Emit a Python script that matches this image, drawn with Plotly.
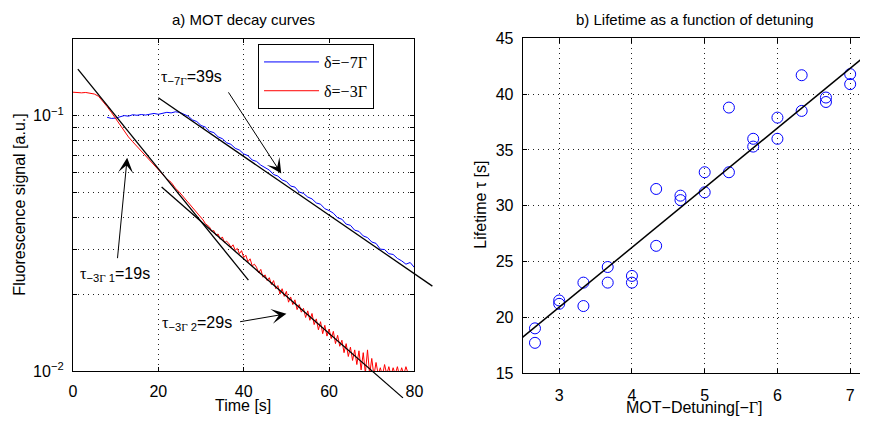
import numpy as np
import plotly.graph_objects as go

W, H = 869, 429

# ---------------- Panel a: MOT decay curves ----------------
# delta = -7 Gamma (blue), sampled each second from t = 8 s
blue_t0 = 8
blue_v = [0.0985, 0.0975, 0.0978, 0.0990, 0.1000, 0.0995, 0.1008, 0.1003, 0.1010, 0.1005,
          0.1015, 0.1020, 0.1012, 0.1022, 0.1030, 0.1025, 0.1035, 0.1030,
          0.1010, 0.0995, 0.0962, 0.0948, 0.0915, 0.0902, 0.0868, 0.0858, 0.0826, 0.0812,
          0.0783, 0.0772, 0.0745, 0.0733, 0.0708, 0.0697, 0.0670, 0.0662, 0.0640, 0.0628,
          0.0612, 0.0588, 0.0580, 0.0560, 0.0552, 0.0530, 0.0525, 0.0502, 0.0496, 0.0480,
          0.0472, 0.0455, 0.0450, 0.0432, 0.0425, 0.0415, 0.0398, 0.0393, 0.0376, 0.0372,
          0.0356, 0.0352, 0.0338, 0.0333, 0.0320, 0.0316, 0.0300, 0.0299, 0.0288, 0.0286,
          0.0276, 0.0270, 0.0262, 0.0266, 0.0254]

# delta = -3 Gamma (red): each second for 0..30 s, then every 0.5 s
red_v_early = [0.1235, 0.1230, 0.1228, 0.1232, 0.1225, 0.1215,
               0.1190, 0.1140, 0.1085, 0.1030, 0.0975, 0.0925, 0.0870, 0.0825, 0.0790, 0.0758,
               0.0725, 0.0695, 0.0668, 0.0640, 0.0612, 0.0588, 0.0565, 0.0548, 0.0520, 0.0500,
               0.0478, 0.0460, 0.0438, 0.0418, 0.0398]
red_v_late = [0.0390, 0.0378, 0.0372, 0.0366, 0.0352, 0.0355, 0.0340, 0.0344, 0.0328, 0.0335,
              0.0318, 0.0322, 0.0316, 0.0305, 0.0312, 0.0297, 0.0302, 0.0288, 0.0296, 0.0278,
              0.0284, 0.0268, 0.0275, 0.0258, 0.0262, 0.0255, 0.0242, 0.0250, 0.0233, 0.0238,
              0.0226, 0.0232, 0.0218, 0.0226, 0.0210, 0.0216, 0.0200, 0.0210, 0.0196, 0.0205,
              0.0186, 0.0195, 0.0182, 0.0190, 0.0174, 0.0182, 0.0170, 0.0176, 0.0162, 0.0172,
              0.0158, 0.0168, 0.0152, 0.0160, 0.0145, 0.0156, 0.0140, 0.0151, 0.0137, 0.0146,
              0.0134, 0.0143, 0.0128, 0.0138, 0.0125, 0.0132, 0.0118, 0.0128, 0.0114, 0.0124,
              0.0110, 0.0121, 0.0106, 0.0120, 0.0101, 0.0118, 0.0098, 0.0121, 0.0097, 0.0112,
              0.0096, 0.0108, 0.0097, 0.0103, 0.0096, 0.0106, 0.0097, 0.0104, 0.0096, 0.0103,
              0.0097, 0.0104, 0.0096, 0.0103, 0.0097, 0.0104, 0.0098]

blue_t = blue_t0 + np.arange(len(blue_v))
red_t = np.concatenate([np.arange(len(red_v_early)) * 1.0,
                        30.5 + 0.5 * np.arange(len(red_v_late))])
red_v = red_v_early + red_v_late

# exponential fit lines (end points)
fit1_t, fit1_v = [1.15, 41.1], [0.152, 0.0227]     # tau_-3G 1
fit2_t, fit2_v = [20.77, 77.3], [0.0525, 0.00785]  # tau_-3G 2
fit3_t, fit3_v = [20.0, 84.2], [0.1175, 0.0215]    # tau_-7G

# ---------------- Panel b: lifetime vs detuning ----------------
det = [2.667, 2.667, 3.0, 3.0, 3.333, 3.333, 3.667, 3.667, 4.0, 4.0, 4.333, 4.333,
       4.667, 4.667, 5.0, 5.0, 5.333, 5.333, 5.667, 5.667, 6.0, 6.0, 6.333, 6.333,
       6.667, 6.667, 7.0, 7.0]
life = [19.0, 17.7, 21.5, 21.2, 23.1, 21.0, 24.5, 23.1, 23.7, 23.1, 31.5, 26.4,
        30.9, 30.5, 33.0, 31.2, 38.8, 33.0, 36.0, 35.3, 37.9, 36.0, 41.7, 38.5,
        39.7, 39.3, 41.8, 40.9]
lfit_x, lfit_y = [2.46, 7.2], [18.0, 43.4]

x_ticks_a = [0, 20, 40, 60, 80]
y_ticks_a = [0.01, 0.02, 0.03, 0.04, 0.05, 0.06, 0.07, 0.08, 0.09, 0.1, 0.2]
y_text_a = ['10<sup>\u22122</sup>', '', '', '', '', '', '', '', '', '10<sup>\u22121</sup>', '']
x_ticks_b = [3, 4, 5, 6, 7]
y_ticks_b = [15, 20, 25, 30, 35, 40, 45]

# ---------------- layout geometry ----------------
L_X0, L_X1 = 70 / W, 416.7 / W
L_Y0, L_Y1 = 1 - 378 / H, 1 - 32 / H
R_X0, R_X1 = 526.7 / W, 1.0
R_Y0, R_Y1 = 1 - 380 / H, 1 - 31.7 / H
t_range = [0, 80]
ya_range = [-2, np.log10(0.2)]
xb_range = [2.5, 7.135]
yb_range = [15, 45]

# extended (invisible) axes that share panel a's scale, so the fit lines can overhang
EXT_X1 = 445 / W
EXT_Y0 = 1 - 412 / H
ext_t_hi = t_range[0] + (t_range[1] - t_range[0]) * (EXT_X1 - L_X0) / (L_X1 - L_X0)
ext_y_lo = ya_range[1] - (ya_range[1] - ya_range[0]) * (L_Y1 - EXT_Y0) / (L_Y1 - L_Y0)

FONT = "Liberation Sans, Arial, sans-serif"
SERIF = "Liberation Serif, Times New Roman, serif"
GRID = dict(showgrid=True, gridcolor="#222", gridwidth=1, griddash="1px,4px")
AX = dict(showline=True, linecolor="black", linewidth=1.2, ticks="inside", ticklen=4,
          tickcolor="black", zeroline=False, tickfont=dict(family=FONT, size=16, color="black"))

fig = go.Figure()
fig.add_trace(go.Scatter(x=blue_t, y=blue_v, mode="lines", name="\u03b4=\u22127\u0393",
                         line=dict(color="#0000ff", width=1), legendgroup="b",
                         xaxis="x", yaxis="y"))
fig.add_trace(go.Scatter(x=red_t, y=red_v, mode="lines", name="\u03b4=\u22123\u0393",
                         line=dict(color="#ff0000", width=1), legendgroup="r",
                         xaxis="x", yaxis="y"))
for ft, fv in [(fit1_t, fit1_v), (fit2_t, fit2_v), (fit3_t, fit3_v)]:
    fig.add_trace(go.Scatter(x=ft, y=fv, mode="lines", showlegend=False,
                             line=dict(color="black", width=1.3), xaxis="x3", yaxis="y3"))

fig.add_trace(go.Scatter(x=det, y=life, mode="markers", showlegend=False,
                         marker=dict(symbol="circle-open", size=11, color="#0000ff",
                                     line=dict(width=1, color="#0000ff")),
                         xaxis="x2", yaxis="y2"))
fig.add_trace(go.Scatter(x=lfit_x, y=lfit_y, mode="lines", showlegend=False,
                         line=dict(color="black", width=1.5), xaxis="x2", yaxis="y2"))

fig.update_layout(
    width=W, height=H, margin=dict(l=0, r=0, t=0, b=0),
    paper_bgcolor="white", plot_bgcolor="rgba(0,0,0,0)",
    font=dict(family=FONT, size=15, color="black"),
    xaxis=dict(domain=[L_X0, L_X1], range=t_range, anchor="y", tickvals=x_ticks_a,
               mirror="ticks", ticklabelstandoff=6, **GRID, **AX),
    yaxis=dict(domain=[L_Y0, L_Y1], type="log", range=ya_range, anchor="x",
               tickvals=y_ticks_a, ticktext=y_text_a, mirror="ticks", ticklabelstandoff=5,
               **GRID, **AX),
    xaxis2=dict(domain=[R_X0, R_X1], range=xb_range, anchor="y2", tickvals=x_ticks_b,
                mirror="ticks", ticklabelstandoff=8, **GRID, **AX),
    yaxis2=dict(domain=[R_Y0, R_Y1], range=yb_range, anchor="x2", tickvals=y_ticks_b,
                ticklabelstandoff=5, **GRID, **AX),
    xaxis3=dict(domain=[L_X0, EXT_X1], range=[t_range[0], ext_t_hi], anchor="y3",
                visible=False, showgrid=False, zeroline=False),
    yaxis3=dict(domain=[EXT_Y0, L_Y1], type="log", range=[ext_y_lo, ya_range[1]],
                anchor="x3", visible=False, showgrid=False, zeroline=False),
    showlegend=True,
    legend=dict(x=257.7 / W, y=1 - 37.3 / H, xanchor="left", yanchor="top",
                bgcolor="white", bordercolor="black", borderwidth=1.2,
                font=dict(family=SERIF, size=16, color="black"),
                itemwidth=55, tracegroupgap=5),
)

ann = []
def txt(x, y, s, **kw):
    d = dict(x=x, y=y, text=s, showarrow=False, xanchor="center", yanchor="middle",
             font=dict(family=FONT, size=15, color="black"))
    d.update(kw)
    ann.append(d)

txt((L_X0 + L_X1) / 2, 1 - 12 / H, "a) MOT decay curves", xref="paper", yref="paper")
txt(701 / W, 1 - 12 / H, "b) Lifetime as a function of detuning", xref="paper", yref="paper")
txt(243 / W, 1 - 414 / H, "Time [s]", xref="paper", yref="paper", font=dict(family=FONT, size=16))
txt(700 / W, 1 - 416 / H,
    "MOT\u2212Detuning[\u2212<span style='font-family:Liberation Serif'>\u0393</span>]",
    xref="paper", yref="paper", font=dict(family=FONT, size=16))
txt(16 / W, 1 - 205 / H, "Fluorescence signal [a.u.]", xref="paper", yref="paper",
    textangle=-90, font=dict(family=FONT, size=16))
txt(484 / W, 1 - 205 / H, "Lifetime \u03c4 [s]", xref="paper", yref="paper",
    textangle=-90, font=dict(family=FONT, size=16))

G = "<span style='font-family:Liberation Serif'>\u0393</span>"
tau = "<span style='font-family:Liberation Serif'>\u03c4</span>"
txt(20.1, -0.850, tau + "<sub>\u22127" + G + "</sub>=39s", xref="x", yref="y",
    xanchor="left", font=dict(family=FONT, size=16))
txt(1.15, -1.622, tau + "<sub>\u22123" + G + " 1</sub>=19s", xref="x", yref="y",
    xanchor="left", font=dict(family=FONT, size=16))
txt(20.3, -1.813, tau + "<sub>\u22123" + G + " 2</sub>=29s", xref="x", yref="y",
    xanchor="left", font=dict(family=FONT, size=16))

# arrows (tail -> head) in data coordinates (log10 for y)
for (tx, ty, hx, hy) in [(36.2, -0.903, 48.8, -1.227),
                         (10.4, -1.564, 12.7, -1.165),
                         (38.8, -1.808, 50.0, -1.776)]:
    ann.append(dict(x=hx, y=hy, ax=tx, ay=ty, xref="x", yref="y", axref="x", ayref="y",
                    text="", showarrow=True, arrowhead=3, arrowsize=2.5, arrowwidth=1,
                    arrowcolor="black", standoff=0, startstandoff=0))

fig.update_layout(annotations=ann)
fig.write_html("out.html")
